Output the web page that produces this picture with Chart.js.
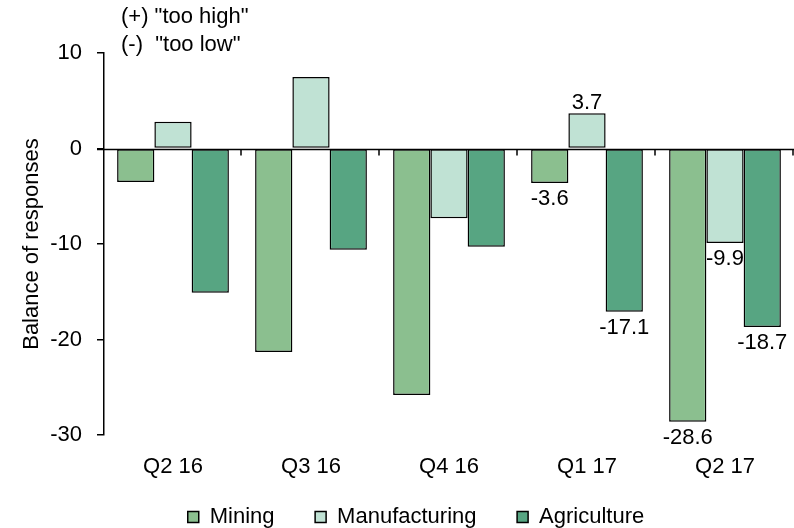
<!DOCTYPE html>
<html>
<head>
<meta charset="utf-8">
<script src="https://cdn.jsdelivr.net/npm/chart.js@4.4.1/dist/chart.umd.min.js"></script>
<style>
  html, body { margin: 0; padding: 0; background: #fff; }
  #wrap { width: 794px; height: 528px; }
</style>
</head>
<body>
<div id="wrap"><canvas id="chart" width="794" height="528"></canvas></div>
<script>
const quarters = ["Q2 16", "Q3 16", "Q4 16", "Q1 17", "Q2 17"];
const mining = [-3.5, -21.3, -25.8, -3.6, -28.6];
const manufacturing = [2.8, 7.5, -7.3, 3.7, -9.9];
const agriculture = [-15.1, -10.6, -10.3, -17.1, -18.7];
const yTicks = [10, 0, -10, -20, -30];
// only the last two quarters carry value labels
const labelledQuarters = [3, 4];

const FONT = "'Liberation Sans', Arial, sans-serif";
const FS = 22;

// "+/-" note in the top left corner
const notePlugin = {
  id: "note",
  afterDraw(chart) {
    const ctx = chart.ctx;
    ctx.save();
    ctx.fillStyle = "#000";
    ctx.font = FS + "px " + FONT;
    ctx.textBaseline = "middle";
    ctx.fillText('(+) "too high"', 121, 17);
    ctx.fillText('(-)  "too low"', 121, 45);
    ctx.restore();
  }
};

// value labels, drawn before the bars like the original
const valueLabels = {
  id: "valueLabels",
  beforeDatasetsDraw(chart) {
    const ctx = chart.ctx;
    ctx.save();
    ctx.font = FS + "px " + FONT;
    ctx.textAlign = "center";
    chart.data.datasets.forEach((ds, di) => {
      const meta = chart.getDatasetMeta(di);
      labelledQuarters.forEach(i => {
        const bar = meta.data[i];
        const v = ds.data[i];
        const txt = v.toFixed(1);
        const w = ctx.measureText(txt).width;
        if (v >= 0) {
          ctx.textBaseline = "bottom";
          ctx.fillStyle = "#fff";
          ctx.fillRect(bar.x - w / 2, bar.y - 24, w, 22);
          ctx.fillStyle = "#000";
          ctx.fillText(txt, bar.x, bar.y + 1);
        } else {
          ctx.textBaseline = "top";
          ctx.fillStyle = "#fff";
          ctx.fillRect(bar.x - w / 2, bar.y + 3, w, 22);
          ctx.fillStyle = "#000";
          ctx.fillText(txt, bar.x, bar.y + 5);
        }
      });
    });
    ctx.restore();
  }
};

// small tick marks on the zero line between quarters
const zeroTicks = {
  id: "zeroTicks",
  afterDatasetsDraw(chart) {
    const x = chart.scales.x, y = chart.scales.y;
    const y0 = Math.round(y.getPixelForValue(0)) + 0.5;
    const step = (x.right - x.left) / quarters.length;
    const ctx = chart.ctx;
    ctx.save();
    ctx.strokeStyle = "#000";
    ctx.lineWidth = 1.5;
    ctx.beginPath();
    ctx.moveTo(y.right - 7, y0);
    ctx.lineTo(x.right, y0);
    for (let i = 1; i <= quarters.length; i++) {
      const px = Math.round(x.left + i * step) - 1;
      ctx.moveTo(px, y0);
      ctx.lineTo(px, y0 + 6);
    }
    ctx.stroke();
    ctx.restore();
  }
};

// fixed legend height, and nudge it left like the original
const legendFix = {
  id: "legendFix",
  beforeInit(chart) {
    const lg = chart.legend;
    if (!lg) return;
    const fit = lg.fit.bind(lg);
    lg.fit = function () { fit(); this.height = 32; };
  },
  afterLayout(chart) {
    const lg = chart.legend;
    if (!lg) return;
    lg.left -= 33;
    lg.right -= 33;
  }
};

const barStyle = { borderColor: "#000", borderWidth: 1.5, borderSkipped: false };

new Chart(document.getElementById("chart"), {
  type: "bar",
  data: {
    labels: quarters,
    datasets: [
      { label: "Mining", data: mining, backgroundColor: "#8bbf8f", ...barStyle },
      { label: "Manufacturing", data: manufacturing, backgroundColor: "#c0e2d4", ...barStyle },
      { label: "Agriculture", data: agriculture, backgroundColor: "#57a582", ...barStyle }
    ]
  },
  options: {
    responsive: false,
    animation: false,
    layout: { padding: { top: 53, right: 0, left: 0, bottom: 0 } },
    categoryPercentage: 0.81,
    barPercentage: 1.0,
    scales: {
      x: {
        grid: { display: false, drawTicks: false },
        border: { display: false },
        ticks: { color: "#000", font: { family: FONT, size: FS }, padding: 19, maxRotation: 0 },
        afterFit(s) { s.height = 61; }
      },
      y: {
        min: -30,
        max: 10,
        afterBuildTicks(s) { s.ticks = yTicks.map(v => ({ value: v })); },
        grid: {
          drawOnChartArea: false,
          drawTicks: true,
          tickLength: 7,
          color: "#000",
          tickColor: "#000",
          lineWidth: 1.5
        },
        border: { display: true, color: "#000", width: 1.5 },
        ticks: { color: "#000", font: { family: FONT, size: FS }, padding: 15 },
        title: {
          display: true,
          text: "Balance of responses",
          color: "#000",
          font: { family: FONT, size: FS },
          padding: { top: 19, bottom: 0 }
        },
        afterFit(s) { s.width = 104; }
      }
    },
    plugins: {
      legend: {
        position: "bottom",
        fullSize: false,
        labels: {
          color: "#000",
          font: { family: FONT, size: FS },
          boxWidth: 11,
          boxHeight: 11,
          padding: 10,
          // trailing spaces widen the gap between entries
          generateLabels(chart) {
            const items = Chart.defaults.plugins.legend.labels.generateLabels(chart);
            items.forEach((it, i) => {
              if (i < items.length - 1) it.text = it.text + "     ";
            });
            return items;
          }
        }
      },
      tooltip: { enabled: false }
    }
  },
  plugins: [legendFix, valueLabels, zeroTicks, notePlugin]
});
</script>
</body>
</html>
